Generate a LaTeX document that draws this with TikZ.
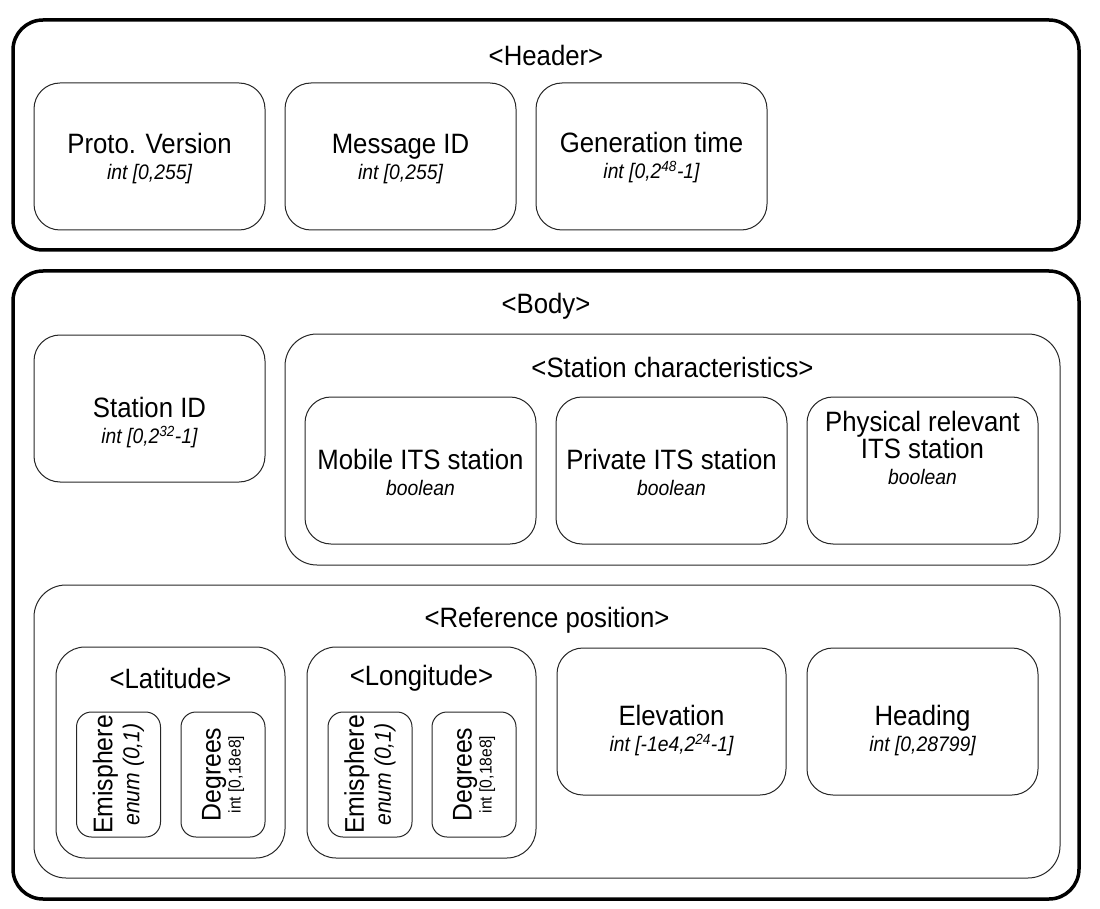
\documentclass[tikz,border=0pt]{standalone}
\usepackage{fontspec}
\setmainfont{Liberation Sans}[FakeStretch=0.92]
\newcommand{\fieldtype}[1]{{\fontsize{21}{21}\selectfont\itshape #1}}
\tikzset{
  part/.style={draw, line width=3.5pt, rounded corners=30pt, minimum width=1066pt, inner sep=0pt},
  group/.style={draw=black!85, line width=1pt, rounded corners=32pt, inner sep=0pt},
  field/.style={draw=black!85, line width=1pt, rounded corners=26pt, minimum width=231pt, minimum height=147pt, inner sep=0pt},
  fieldtext/.style={align=center, inner sep=0pt, font=\fontsize{28}{26}\selectfont},
  subfield/.style={draw=black!85, line width=1pt, rounded corners=15pt, rotate=90, minimum width=125pt,
    minimum height=84pt, align=center, inner sep=0pt, font=\fontsize{27}{27}\selectfont},
  title/.style={font=\fontsize{28}{28}\selectfont}
}
\begin{document}
\begin{tikzpicture}[x=1pt,y=-1pt]
  \useasboundingbox (0,0) rectangle (1100,909);

  % header
  \node[part, minimum height=230pt] (header) at (546,135) {};
  \node[title] (headertitle) at (546,55) {<Header>};
  \node[field] (proto) at (149.5,156.5) {};
  \node[field] (msgid) at (400.5,156.5) {};
  \node[field] (gentime) at (651.5,156.5) {};
  \node[fieldtext] (protolabel) at (149.5,159) {Proto. Version\\\fieldtype{int [0,255]}};
  \node[fieldtext] (msgidlabel) at (400.5,159) {Message ID\\\fieldtype{int [0,255]}};
  \node[fieldtext] (gentimelabel) at (651.5,158) {Generation time\\\fieldtype{int [0,2\textsuperscript{48}-1]}};

  % body
  \node[part, minimum height=628pt] (body) at (546,585) {};
  \node[title] (bodytitle) at (546,306) {<Body>};
  \node[field] (stationid) at (149.5,408.5) {};
  \node[fieldtext] (stationidlabel) at (149.5,423) {Station ID\\\fieldtype{int [0,2\textsuperscript{32}-1]}};

  \node[group, minimum width=775pt, minimum height=231pt] (stationchar) at (672.5,449.5) {};
  \node[title] (stationchartitle) at (672.5,367) {<Station characteristics>};
  \node[field] (mobile) at (420.5,470.5) {};
  \node[field] (private) at (671.5,470.5) {};
  \node[field] (physical) at (922.5,470.5) {};
  \node[fieldtext] (mobilelabel) at (420.5,472) {Mobile ITS station\\\fieldtype{boolean}};
  \node[fieldtext] (privatelabel) at (671.5,472) {Private ITS station\\\fieldtype{boolean}};
  \node[fieldtext] (physicallabel) at (922.5,448) {Physical relevant\\ITS station\\\fieldtype{boolean}};

  \node[group, minimum width=1026pt, minimum height=293pt] (refpos) at (547,731.5) {};
  \node[title] (refpostitle) at (547,620) {<Reference position>};

  \node[group, rounded corners=29pt, minimum width=229pt, minimum height=211pt] (lat) at (170.5,752.5) {};
  \node[title] (lattitle) at (170.5,678) {<Latitude>};
  \node[subfield] (latemis) at (118.5,774.5) {Emisphere\\\fieldtype{\fontsize{23}{23}\selectfont enum (0,1)}};
  \node[subfield] (latdeg) at (223,774.5) {Degrees\\[-7pt]{\fontsize{17}{17}\selectfont int [0,18e8]}};

  \node[group, rounded corners=29pt, minimum width=229pt, minimum height=211pt] (lon) at (421.5,752.5) {};
  \node[title] (lontitle) at (421.5,678) {<Longitude>};
  \node[subfield] (lonemis) at (370,774.5) {Emisphere\\\fieldtype{\fontsize{23}{23}\selectfont enum (0,1)}};
  \node[subfield] (londeg) at (474,774.5) {Degrees\\[-7pt]{\fontsize{17}{17}\selectfont int [0,18e8]}};

  \node[field, minimum width=229pt] (elevation) at (671.5,721.5) {};
  \node[field] (heading) at (922.5,721.5) {};
  \node[fieldtext] (elevationlabel) at (671.5,731) {Elevation\\\fieldtype{int [-1e4,2\textsuperscript{24}-1]}};
  \node[fieldtext] (headinglabel) at (922.5,731) {Heading\\\fieldtype{int [0,28799]}};
\end{tikzpicture}
\end{document}
